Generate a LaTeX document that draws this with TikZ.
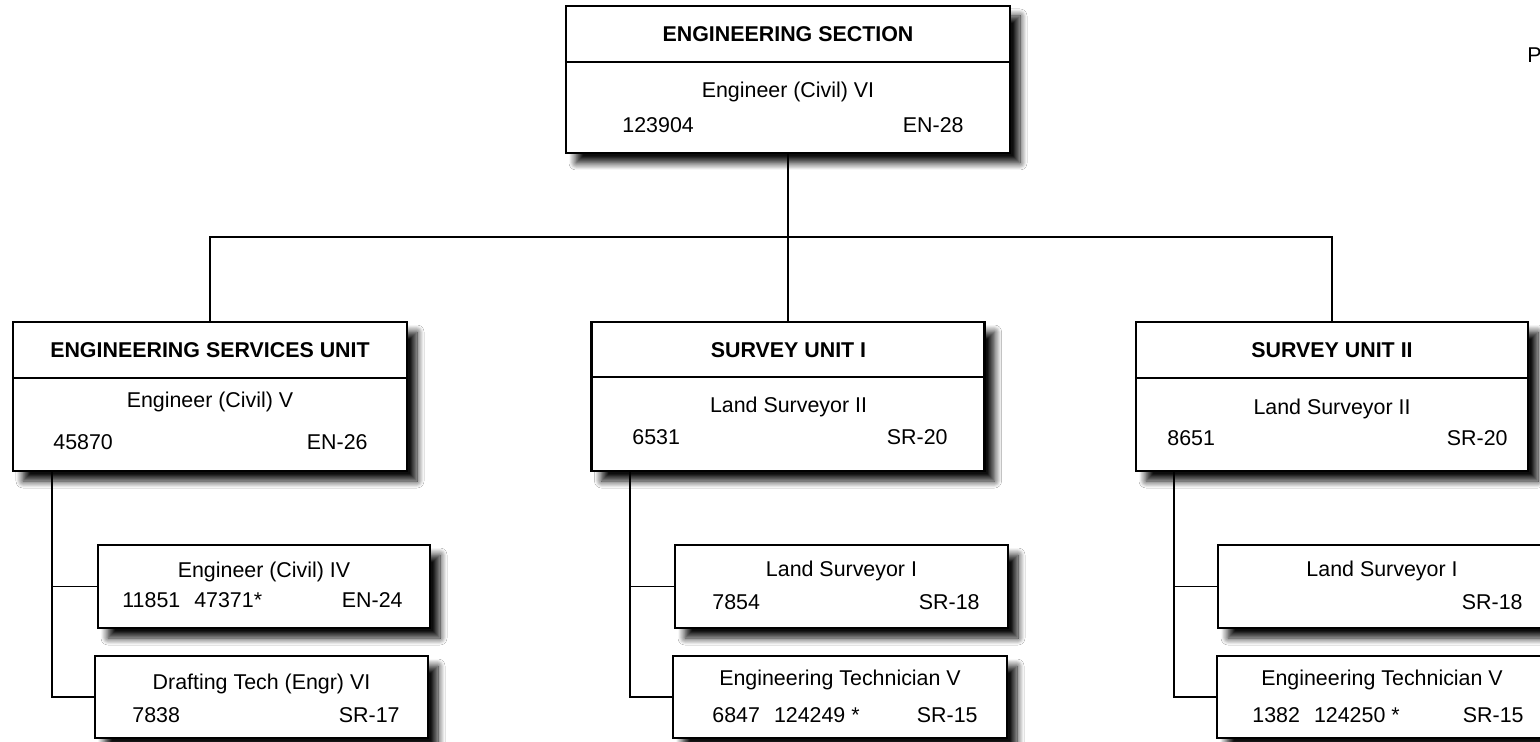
\documentclass[tikz,border=0pt]{standalone}
\usepackage{fontspec}
\setmainfont{Liberation Sans}
\usetikzlibrary{positioning,shadows.blur}

\begin{document}
\begin{tikzpicture}[
  x=0.5pt, y=-0.5pt,
  font=\fontsize{10.7}{12.8}\selectfont,
  box/.style={draw, fill=white, line width=1.25pt, inner sep=0pt,
    blur shadow={shadow xshift=5pt, shadow yshift=-5pt, shadow blur radius=3.5pt, shadow blur steps=10, shadow opacity=95}},
  ttl/.style={font=\fontsize{10.7}{12.8}\selectfont\bfseries, inner sep=0pt, text height=7.66pt, text depth=0pt},
  txt/.style={inner sep=0pt, text height=7.66pt, text depth=0pt},
  link/.style={line width=.85pt},
  divl/.style={line width=.8pt},
]
\useasboundingbox[fill=white] (0,0) rectangle (1540,742);

% ---------------- section
\node[box, minimum width=222pt, minimum height=73.5pt] (top) at (788,79.5) {};
\draw[divl] (top.west |- 0,62) -- (top.east |- 0,62);
\node[ttl] (topT) at (788,34) {ENGINEERING SECTION};
\node[txt] (topJ) at (788,90) {Engineer (Civil) VI};
\node[txt, anchor=west] (topN) at (622,125) {123904};
\node[txt, anchor=east] (topG) at (964,125) {EN-28};

\node[txt, anchor=west] (page) at (1527,55) {P};

% ---------------- units
\node[box, minimum width=197pt, minimum height=74.5pt] (esu) at (210,396.5) {};
\node[box, minimum width=196.5pt, minimum height=74.5pt] (su1) at (788,396.5) {};
\node[box, minimum width=196pt, minimum height=74.5pt] (su2) at (1332,396.5) {};
\draw[divl] (esu.west |- 0,378) -- (esu.east |- 0,378);
\draw[divl] (su1.west |- 0,377) -- (su1.east |- 0,377);
\draw[divl] (su2.west |- 0,378) -- (su2.east |- 0,378);

\node[ttl] (esuT) at (210,350) {ENGINEERING SERVICES UNIT};
\node[txt] (esuJ) at (210,400) {Engineer (Civil) V};
\node[txt, anchor=west] (esuN) at (53,442) {45870};
\node[txt, anchor=east] (esuG) at (368,442) {EN-26};

\node[ttl] (su1T) at (788.5,350) {SURVEY UNIT I};
\node[txt] (su1J) at (788.5,405) {Land Surveyor II};
\node[txt, anchor=west] (su1N) at (632,437) {6531};
\node[txt, anchor=east] (su1G) at (948,437) {SR-20};

\node[ttl] (su2T) at (1332,350) {SURVEY UNIT II};
\node[txt] (su2J) at (1332,407) {Land Surveyor II};
\node[txt, anchor=west] (su2N) at (1167,438) {8651};
\node[txt, anchor=east] (su2G) at (1508,438) {SR-20};

% ---------------- positions
\node[box, minimum width=166pt, minimum height=41.5pt] (esuA) at (264,586.5) {};
\node[box, minimum width=166.5pt, minimum height=41pt] (esuB) at (261.5,697) {};
\node[box, minimum width=166.5pt, minimum height=41.5pt] (su1A) at (841.5,586.5) {};
\node[box, minimum width=167pt, minimum height=41pt] (su1B) at (840,697) {};
\node[box, minimum width=165pt, minimum height=41.5pt] (su2A) at (1383,586.5) {};
\node[box, minimum width=165pt, minimum height=41pt] (su2B) at (1382,697) {};

\node[txt] (esuAJ) at (264,570) {Engineer (Civil) IV};
\node[txt, anchor=west] (esuAN) at (122,600) {11851\hspace{7pt}47371*};
\node[txt, anchor=east] (esuAG) at (403,600) {EN-24};

\node[txt] (esuBJ) at (261.5,682) {Drafting Tech (Engr) VI};
\node[txt, anchor=west] (esuBN) at (132,715) {7838};
\node[txt, anchor=east] (esuBG) at (400,715) {SR-17};

\node[txt] (su1AJ) at (841.5,569) {Land Surveyor I};
\node[txt, anchor=west] (su1AN) at (712,602) {7854};
\node[txt, anchor=east] (su1AG) at (980,602) {SR-18};

\node[txt] (su1BJ) at (840,678) {Engineering Technician V};
\node[txt, anchor=west] (su1BN) at (712,715) {6847\hspace{7pt}124249 *};
\node[txt, anchor=east] (su1BG) at (978,715) {SR-15};

\node[txt] (su2AJ) at (1382,569) {Land Surveyor I};
\node[txt, anchor=east] (su2AG) at (1523,602) {SR-18};

\node[txt] (su2BJ) at (1382,678) {Engineering Technician V};
\node[txt, anchor=west] (su2BN) at (1252,715) {1382\hspace{7pt}124250 *};
\node[txt, anchor=east] (su2BG) at (1524,715) {SR-15};

% ---------------- lines
\coordinate (bus) at (788,237);
\draw[link] (top.south) -- (bus);
\draw[link] (esu.north) |- (bus) -| (su2.north);
\draw[link] (bus) -- (su1.north);
\draw[link] ([xshift=20pt]esu.south west) |- (esuA.west);
\draw[link] ([xshift=20pt]esu.south west) |- (esuB.west);
\draw[link] ([xshift=20pt]su1.south west) |- (su1A.west);
\draw[link] ([xshift=20pt]su1.south west) |- (su1B.west);
\draw[link] ([xshift=19.5pt]su2.south west) |- (su2A.west);
\draw[link] ([xshift=19.5pt]su2.south west) |- (su2B.west);

\end{tikzpicture}
\end{document}
